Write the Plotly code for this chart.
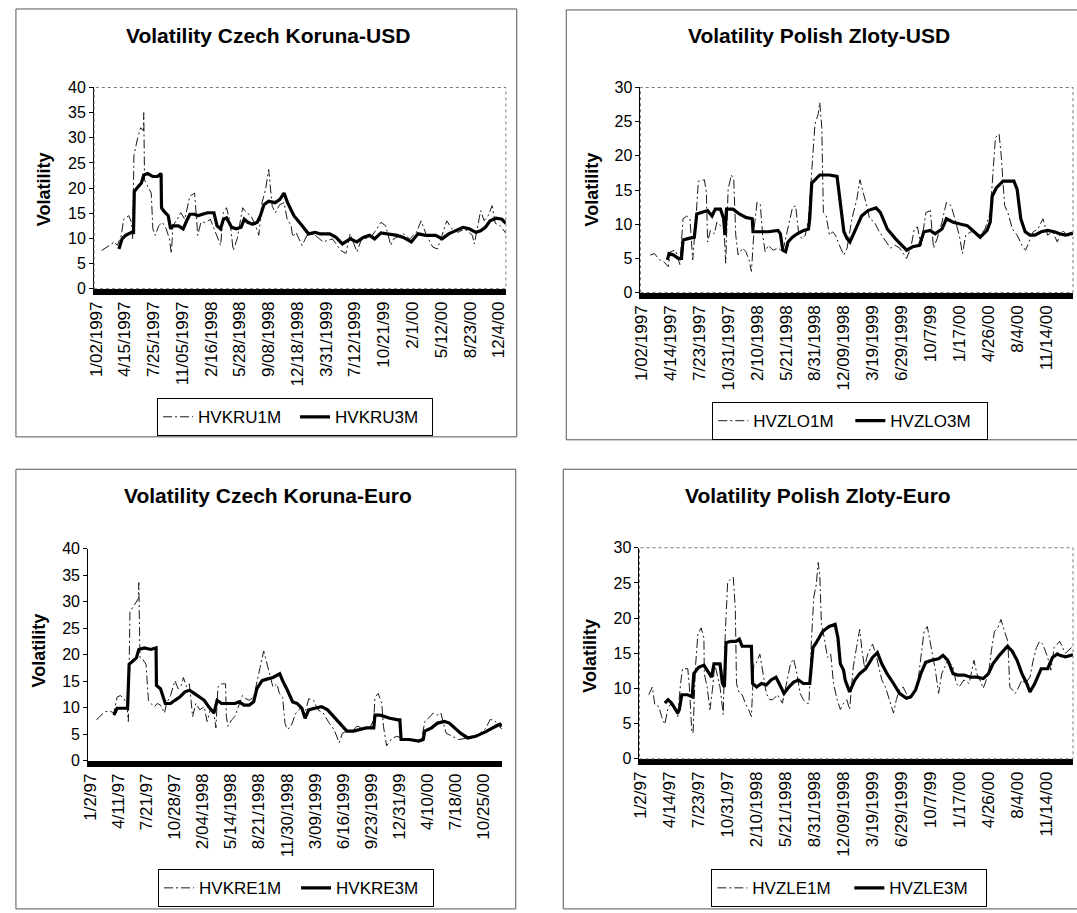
import plotly.graph_objects as go

W, H = 1077, 913
FONT = "Liberation Sans, Arial, sans-serif"

# ---------------- data (x = trading-day index from 1/02/1997) ----------------
kru_labels = ["1/02/1997", "4/15/1997", "7/25/1997", "11/05/1997", "2/16/1998", "5/28/1998",
              "9/08/1998", "12/18/1998", "3/31/1999", "7/12/1999", "10/21/99", "2/1/00",
              "5/12/00", "8/23/00", "12/4/00"]
kru_step = 73
kru1m_x = [14, 21, 34, 46, 54, 64, 70, 83, 90, 93, 96, 105, 113, 120, 121, 123, 131, 140, 144, 150,
           159, 168, 178, 186, 191, 195, 206, 215, 225, 238, 250, 254, 258, 266, 279, 290, 299, 307,
           316, 323, 331, 340, 348, 358, 372, 382, 393, 405, 413, 421, 430, 438, 441, 447, 455, 466,
           477, 485, 495, 499, 507, 515, 523, 535, 552, 576, 600, 609, 621, 634, 645, 662, 674, 698,
           723, 735, 748, 755, 780, 796, 813, 825, 837, 854, 866, 878, 890, 903, 919, 935, 955, 960,
           968, 976, 985, 995, 1005, 1013, 1026, 1040]
kru1m_y = [7.6, 7.9, 8.6, 9.3, 8.6, 10.6, 13.8, 14.5, 13.2, 9.9, 26.5, 29.8, 32, 31.4, 35, 21.6, 20.3,
           19, 11.9, 10.6, 12.5, 13.2, 11.9, 9.9, 7, 12.5, 13.8, 15.1, 13.8, 18.4, 19, 13.8, 10.6, 13.2,
           13.2, 13.8, 11.9, 10.6, 8.6, 15.1, 16.1, 13.2, 7.6, 9.9, 16.1, 15.1, 14.5, 12.5, 10.6, 17.1,
           19.7, 23.7, 21, 16.4, 15.1, 16.7, 17.1, 13.8, 12.5, 10.3, 11.2, 9.9, 8.6, 10.6, 10.9, 9.3, 9.9,
           8.9, 7.6, 7, 10.9, 7.3, 9.9, 10.2, 13.2, 12.5, 8.6, 9.9, 10.9, 9.9, 11.2, 13.5, 10.9, 8.3, 7.9,
           10.6, 13.5, 11.9, 11.2, 11.9, 10.6, 8.9, 11.9, 15.5, 13.5, 14.5, 16.5, 13, 12.5, 11]
kru3m_x = [58, 66, 75, 90, 95, 97, 107, 115, 121, 131, 144, 156, 165, 166, 172, 183, 189, 195, 209,
           221, 230, 238, 250, 258, 270, 283, 299, 307, 316, 323, 331, 344, 356, 368, 376, 385, 397, 409,
           417, 426, 438, 454, 466, 477, 486, 502, 523, 539, 556, 568, 593, 609, 625, 634, 645, 662, 678,
           694, 707, 723, 739, 764, 780, 800, 817, 837, 862, 878, 895, 910, 931, 947, 964, 976, 988,
           1000, 1015, 1030, 1040]
kru3m_y = [7.9, 9.9, 10.6, 11.2, 11.2, 19.3, 20.3, 21, 22.6, 22.9, 22.3, 22.3, 22.9, 16.1, 15.4, 14.5,
           11.9, 12.5, 12.5, 11.9, 13.5, 14.8, 14.8, 14.5, 14.8, 15.1, 15.1, 12.5, 11.9, 13.8, 14.1, 12.2,
           11.9, 12.2, 13.8, 13.2, 12.8, 13.2, 14.5, 16.7, 17.4, 17.1, 17.7, 19, 17.1, 14.5, 12.5, 10.9,
           11.2, 10.9, 10.9, 10.2, 8.9, 9.3, 9.9, 9.3, 10.2, 10.6, 9.9, 11.1, 10.9, 10.6, 10.2, 9.3, 10.9,
           10.6, 10.6, 9.9, 10.9, 11.5, 12.2, 11.9, 11.2, 11.5, 12.2, 13.5, 14, 13.8, 13]

zlo_labels = ["1/02/1997", "4/14/1997", "7/23/1997", "10/31/1997", "2/10/1998", "5/21/1998",
              "8/31/1998", "12/09/1998", "3/19/1999", "6/29/1999", "10/7/99", "1/17/00",
              "4/26/00", "8/4/00", "11/14/00"]
zlo_step = 72
zlo1m_x = [22, 33, 45, 56, 67, 73, 85, 96, 104, 113, 121, 128, 136, 142, 157, 162, 165, 172, 182, 188,
           197, 205, 210, 216, 224, 230, 235, 241, 252, 260, 268, 274, 281, 288, 296, 302, 308, 316, 328,
           340, 352, 364, 376, 384, 392, 400, 408, 416, 424, 432, 440, 444, 449, 453, 460, 468, 476, 483,
           496, 504, 512, 524, 536, 544, 552, 559, 568, 580, 592, 603, 620, 632, 643, 660, 671, 679, 687,
           696, 708, 719, 727, 736, 748, 759, 771, 780, 791, 799, 807, 820, 831, 843, 855, 868, 875, 881,
           890, 895, 900, 904, 912, 923, 935, 947, 956, 963, 975, 987, 999, 1011, 1023, 1035, 1041, 1050,
           1062, 1074]
zlo1m_y = [5.5, 5.7, 4.8, 4.5, 3.8, 6, 6.2, 4.1, 10.8, 11.2, 10.8, 4.8, 10.8, 16.3, 16.5, 14.6, 7.4, 9.1,
           8.6, 10.3, 9.8, 10.3, 4.3, 15.1, 17.2, 16.5, 8.4, 5.5, 6.5, 6, 4.8, 3.1, 9.6, 13.2, 12.9, 8.4,
           6, 6.9, 6.2, 6.5, 6, 9.3, 12.4, 12.7, 8.4, 7.9, 8.4, 10.8, 17.5, 24.6, 26.1, 27.8, 24.2, 11.7,
           11.2, 8.4, 8.9, 8.4, 6.5, 5.5, 6.5, 10.8, 13.6, 16.5, 14.6, 13.2, 10.8, 10.3, 8.9, 7.9, 6.5,
           6.9, 6.5, 5, 6.7, 9.3, 9.6, 6.9, 11.7, 12, 6.5, 7.9, 10.3, 13.2, 12.7, 10.8, 8.4, 5.7, 8.4, 8.9,
           8.9, 8.4, 9.3, 11.7, 17.5, 22.7, 23.2, 20.3, 16, 12.7, 11.7, 9.3, 8.4, 6.9, 6.2, 7.2, 8.9, 9.3,
           10.8, 8.4, 8.9, 7.4, 8.4, 9, 8.2, 8.6]
zlo3m_x = [65, 69, 80, 92, 100, 104, 116, 132, 138, 148, 165, 176, 184, 197, 205, 208, 212, 228, 244,
           260, 276, 278, 292, 316, 340, 346, 352, 359, 365, 376, 388, 404, 416, 419, 424, 432, 444, 468,
           487, 496, 504, 512, 519, 532, 548, 564, 584, 595, 612, 632, 648, 660, 675, 692, 703, 719, 731,
           748, 759, 776, 795, 811, 828, 843, 860, 868, 873, 883, 900, 927, 935, 944, 955, 967, 979, 995,
           1011, 1027, 1041, 1055, 1074]
zlo3m_y = [4.8, 5.7, 5.5, 5, 5, 7.7, 7.9, 8.1, 11.5, 11.7, 12, 11.2, 12.2, 12.2, 10.8, 8.4, 12.2, 12.2,
           11.5, 11, 10.8, 8.9, 8.9, 8.9, 9.1, 8.6, 6.2, 6, 7.4, 8.1, 8.6, 9.1, 9.3, 10.8, 16, 16.5, 17.2,
           17.2, 17, 12.7, 8.9, 7.9, 7.4, 9.1, 11.2, 12, 12.4, 11.7, 9.3, 7.9, 6.9, 6.2, 6.7, 6.9, 8.9,
           9.1, 8.6, 9.3, 10.8, 10.3, 10, 9.8, 8.9, 8.1, 9.1, 10.3, 14.1, 15.3, 16.3, 16.3, 15.1, 10.8,
           8.9, 8.4, 8.4, 8.9, 9.1, 8.9, 8.6, 8.4, 8.7]

kre_labels = ["1/2/97", "4/11/97", "7/21/97", "10/28/97", "2/04/1998", "5/14/1998", "8/21/1998",
              "11/30/1998", "3/09/1999", "6/16/1999", "9/23/1999", "12/31/99", "4/10/00",
              "7/18/00", "10/25/00"]
kre_step = 70
kre1m_x = [16, 27, 39, 51, 59, 67, 75, 84, 91, 95, 99, 107, 115, 120, 121, 124, 131, 139, 145, 151,
           160, 167, 175, 185, 190, 200, 211, 219, 227, 232, 240, 247, 255, 263, 273, 284, 291, 299, 308,
           313, 318, 327, 337, 339, 343, 352, 360, 371, 379, 388, 396, 407, 415, 423, 432, 440, 447, 455,
           465, 471, 479, 485, 491, 500, 512, 523, 535, 544, 556, 567, 580, 595, 607, 620, 628, 639, 652,
           664, 679, 696, 706, 709, 717, 726, 730, 738, 749, 762, 778, 794, 810, 825, 833, 846, 854, 865,
           873, 886, 900, 917, 934, 951, 968, 984, 996, 1008, 1017, 1025]
kre1m_y = [7.7, 8.6, 9.3, 9.3, 9, 12, 12.3, 11.7, 10.8, 7.4, 28.1, 29, 29.9, 30.6, 33.6, 19.4, 19.1,
           18.2, 11.4, 10.8, 10.2, 10.8, 10.5, 9, 10.8, 12.3, 15.1, 13.6, 14.2, 15.7, 13.9, 14.5, 8.3,
           10.8, 9.6, 10.2, 7.4, 9.6, 9, 6.2, 13.9, 14.5, 14.5, 8.3, 6.5, 7.7, 8.3, 10.8, 12.3, 11.7, 11.4,
           12, 15.1, 17.6, 20.7, 18.2, 16.4, 13.9, 14.5, 12.7, 12, 7, 5.9, 6.5, 9, 9.9, 9, 11.7, 11.4, 9.6,
           9, 7.1, 5.9, 3.4, 5.2, 5.6, 5.6, 6.5, 6.2, 6.2, 7.7, 12, 12.7, 10.8, 6.5, 2.8, 4, 4.6, 4.3, 4,
           3.7, 4, 7.4, 8.3, 9, 8.6, 9, 5.2, 4.6, 4, 4.2, 4.6, 5, 6, 7.8, 7.5, 6.5, 6]
kre3m_x = [59, 67, 79, 93, 97, 107, 115, 121, 135, 151, 164, 165, 175, 187, 200, 211, 223, 236, 247,
           259, 271, 284, 295, 308, 316, 327, 343, 360, 371, 383, 396, 407, 415, 428, 440, 455, 472, 479,
           491, 504, 515, 527, 535, 544, 559, 576, 591, 607, 624, 639, 656, 671, 687, 706, 709, 722, 746,
           766, 771, 774, 794, 818, 829, 833, 850, 865, 882, 894, 906, 922, 940, 960, 985, 1000, 1012,
           1020, 1025]
kre3m_y = [8.6, 9.9, 9.9, 9.9, 18.2, 18.8, 19.4, 21, 21.3, 21, 21.3, 14.2, 13.6, 10.8, 10.8, 11.4, 12,
           13, 13.3, 12.7, 12, 11.4, 10.2, 9, 11.4, 10.8, 10.8, 10.8, 11.1, 10.5, 10.5, 11.1, 13.6, 15.1,
           15.4, 15.7, 16.4, 15.1, 13.3, 11.1, 10.8, 9.9, 8, 9.6, 9.9, 10.2, 9.6, 8.3, 6.8, 5.6, 5.6, 5.9,
           6.2, 6.2, 8.6, 8.6, 8, 7.7, 7.7, 4, 4, 3.7, 4, 5.6, 6.2, 7.1, 7.4, 7.1, 6.2, 5.2, 4.3, 4.6, 5.5,
           6.2, 6.6, 6.9, 6.5]

zle_labels = ["1/2/97", "4/14/97", "7/23/97", "10/31/97", "2/10/1998", "5/21/1998", "8/31/1998",
              "12/09/1998", "3/19/1999", "6/29/1999", "10/7/99", "1/17/00", "4/26/00", "8/4/00",
              "11/14/00"]
zle_step = 72
zle1m_x = [20, 29, 35, 45, 52, 60, 67, 73, 85, 92, 99, 104, 117, 121, 127, 130, 136, 142, 150, 157,
           158, 165, 172, 179, 184, 190, 197, 205, 210, 216, 224, 230, 235, 238, 245, 252, 260, 268, 275,
           281, 288, 296, 304, 312, 320, 328, 340, 352, 364, 372, 380, 388, 396, 404, 412, 418, 424, 430,
           436, 441, 445, 449, 456, 464, 472, 479, 488, 496, 504, 512, 519, 528, 536, 544, 550, 556, 564,
           576, 584, 592, 599, 608, 616, 624, 628, 635, 643, 652, 664, 675, 687, 696, 704, 712, 717, 723,
           732, 740, 748, 755, 763, 776, 784, 791, 803, 816, 828, 835, 843, 851, 864, 871, 879, 887, 895,
           904, 912, 917, 923, 931, 939, 947, 955, 967, 975, 983, 991, 999, 1011, 1019, 1027, 1041, 1055,
           1074]
zle1m_y = [9.1, 10.2, 7.7, 7.4, 6, 4.9, 7, 7.7, 7.4, 6, 10.7, 12.8, 12.8, 10.2, 3.7, 3.7, 13, 17.7,
           18.6, 17.2, 12.1, 10.2, 7, 10.2, 13.5, 12.1, 10.2, 6.3, 17.7, 25.1, 25.6, 25.8, 21.4, 10.7,
           9.3, 9.1, 7.9, 7, 6, 13.5, 13.7, 14.9, 12.1, 9.3, 8.4, 8.4, 9.1, 7.9, 11.2, 13.5, 14.2, 12.1,
           9.3, 8.4, 7.9, 7.9, 16.7, 23, 24.7, 27.9, 26, 19.1, 17.2, 14.4, 14.9, 10.7, 8.4, 7, 7.9, 8.4, 7,
           13, 15.8, 18.4, 15.3, 13, 14.9, 16.3, 14.9, 13, 11.2, 10.2, 8.8, 7.4, 6.5, 8.4, 9.8, 10.2, 8.8,
           9.1, 10.2, 14.4, 18.1, 18.8, 17.2, 15.3, 12.6, 9.3, 12.1, 13, 14, 13, 10.7, 10.2, 11.2, 10.7,
           14, 12.1, 11.2, 10, 12.1, 15.3, 18.1, 18.6, 19.8, 18.1, 16.7, 10.2, 9.8, 9.3, 10.2, 11.2, 10.7,
           11.6, 14, 15.8, 16.7, 16.3, 14.4, 12.6, 15.8, 16.7, 15, 16]
zle3m_x = [60, 68, 77, 85, 92, 96, 102, 117, 128, 132, 144, 157, 168, 176, 182, 197, 203, 208, 212,
           224, 237, 245, 252, 264, 275, 278, 288, 300, 312, 324, 336, 344, 356, 368, 380, 392, 404, 420,
           428, 436, 452, 468, 483, 490, 496, 504, 508, 519, 532, 544, 559, 576, 588, 599, 612, 628, 643,
           660, 671, 683, 696, 708, 723, 740, 751, 763, 776, 787, 803, 820, 835, 851, 864, 875, 891, 911,
           923, 935, 947, 959, 967, 979, 995, 1011, 1023, 1035, 1041, 1055, 1074]
zle3m_y = [7.9, 8.4, 7.9, 7.2, 6.5, 7, 9.1, 9.1, 8.8, 12.1, 13, 13.3, 12.3, 11.6, 13.5, 13.5, 10.7,
           10.2, 16.5, 16.7, 16.7, 17, 16, 16, 16, 10.7, 10.2, 10.7, 10.5, 11.2, 11.6, 10.7, 9.3, 10.2,
           10.9, 11.2, 10.7, 10.7, 15.8, 16.5, 18.1, 18.8, 19.1, 17.2, 13.5, 12.6, 11.2, 9.5, 11.2, 12.1,
           12.8, 14.4, 15.1, 13.5, 12.1, 10.7, 9.3, 8.6, 8.8, 9.8, 12.1, 13.7, 14, 14.2, 14.7, 14, 12.1,
           11.9, 11.9, 11.6, 11.6, 11.4, 12.1, 13.5, 14.7, 16, 15.3, 14, 12.1, 10.7, 9.5, 10.7, 12.8, 12.8,
           14.4, 14.9, 14.7, 14.5, 14.8]

# ---------------- layout of the four panels (pixel boxes) ----------------
panels = [
    dict(title="Volatility Czech Koruna-USD", names=("HVKRU1M", "HVKRU3M"),
         d1=(kru1m_x, kru1m_y), d3=(kru3m_x, kru3m_y), labels=kru_labels, step=kru_step,
         xr=[-5, 1040], ymax=40, box=(86, 502, 81, 286), title_xy=(262, 28), ylab_xy=(35, 185),
         leg_xy=(289, 417), frame=(7, 513, 1, 437), border=True),
    dict(title="Volatility Polish Zloty-USD", names=("HVZLO1M", "HVZLO3M"),
         d1=(zlo1m_x, zlo1m_y), d3=(zlo3m_x, zlo3m_y), labels=zlo_labels, step=zlo_step,
         xr=[-2, 1074], ymax=30, box=(638, 1075, 81, 290), title_xy=(818, 28), ylab_xy=(589, 185),
         leg_xy=(850, 421), frame=(563, 1082, 2, 440), border=True),
    dict(title="Volatility Czech Koruna-Euro", names=("HVKRE1M", "HVKRE3M"),
         d1=(kre1m_x, kre1m_y), d3=(kre3m_x, kre3m_y), labels=kre_labels, step=kre_step,
         xr=[-5, 1025], ymax=40, box=(80, 498, 551, 767), title_xy=(262, 497), ylab_xy=(30, 655),
         leg_xy=(290, 897), frame=(7, 512, 470, 918), border=False),
    dict(title="Volatility Polish Zloty-Euro", names=("HVZLE1M", "HVZLE3M"),
         d1=(zle1m_x, zle1m_y), d3=(zle3m_x, zle3m_y), labels=zle_labels, step=zle_step,
         xr=[-3, 1074], ymax=30, box=(637, 1075, 550, 765), title_xy=(817, 497), ylab_xy=(587, 660),
         leg_xy=(849, 897), frame=(560, 1082, 470, 918), border=True),
]

fig = go.Figure()
annotations, shapes = [], []
layout = {}

for i, p in enumerate(panels, start=1):
    sfx = "" if i == 1 else str(i)
    xa, ya, lg = "x" + sfx, "y" + sfx, "legend" + sfx
    x0, x1, y0, y1 = p["box"]

    fig.add_trace(go.Scatter(
        x=p["d1"][0], y=p["d1"][1], mode="lines", name=p["names"][0],
        line=dict(color="#1a1a1a", width=1, dash="9px,3px,2px,3px"),
        xaxis=xa, yaxis=ya, legend=lg))
    fig.add_trace(go.Scatter(
        x=p["d3"][0], y=p["d3"][1], mode="lines", name=p["names"][1],
        line=dict(color="black", width=3.2),
        xaxis=xa, yaxis=ya, legend=lg))

    layout["xaxis" + sfx] = dict(
        domain=[x0 / W, x1 / W], range=p["xr"], anchor=ya,
        tickvals=[k * p["step"] for k in range(len(p["labels"]))], ticktext=p["labels"],
        tickangle=-90, tickfont=dict(size=17, color="black"),
        showline=True, linewidth=6, linecolor="black", ticks="",
        showgrid=False, zeroline=False)
    layout["yaxis" + sfx] = dict(
        domain=[1 - y1 / H, 1 - y0 / H], range=[0, p["ymax"]], dtick=5, anchor=xa,
        tickfont=dict(size=16, color="black"), showline=True, linewidth=1, linecolor="black",
        ticks="outside", ticklen=4, tickcolor="black", showgrid=False, zeroline=False)
    layout[lg] = dict(
        x=p["leg_xy"][0] / W, y=1 - p["leg_xy"][1] / H, xanchor="center", yanchor="middle",
        orientation="h", bordercolor="black", borderwidth=1, bgcolor="white",
        font=dict(size=17, color="black", family=FONT), itemwidth=30,
        entrywidth=92, entrywidthmode="pixels")

    annotations.append(dict(
        text="<b>" + p["title"] + "</b>", x=p["title_xy"][0] / W, y=1 - p["title_xy"][1] / H,
        xref="paper", yref="paper", xanchor="center", yanchor="middle", showarrow=False,
        font=dict(size=21, color="black")))
    annotations.append(dict(
        text="<b>Volatility</b>", x=p["ylab_xy"][0] / W, y=1 - p["ylab_xy"][1] / H,
        xref="paper", yref="paper", xanchor="center", yanchor="middle", showarrow=False,
        textangle=-90, font=dict(size=18, color="black")))

    if p["border"]:
        shapes.append(dict(type="rect", xref=xa + " domain", yref=ya + " domain",
                           x0=0, x1=1, y0=0, y1=1, line=dict(color="#777", width=1, dash="dot")))
    fx0, fx1, fy0, fy1 = p["frame"]
    shapes.append(dict(type="rect", xref="paper", yref="paper",
                       x0=fx0 / W, x1=fx1 / W, y0=1 - fy1 / H, y1=1 - fy0 / H,
                       line=dict(color="#555", width=1)))

fig.update_layout(
    width=W, height=H, margin=dict(l=0, r=0, t=0, b=0),
    paper_bgcolor="white", plot_bgcolor="white",
    font=dict(family=FONT, color="black"),
    annotations=annotations, shapes=shapes, showlegend=True,
    **layout)

fig.write_html("out.html", config={"displayModeBar": False},
               post_script="document.body.style.margin='0';")
